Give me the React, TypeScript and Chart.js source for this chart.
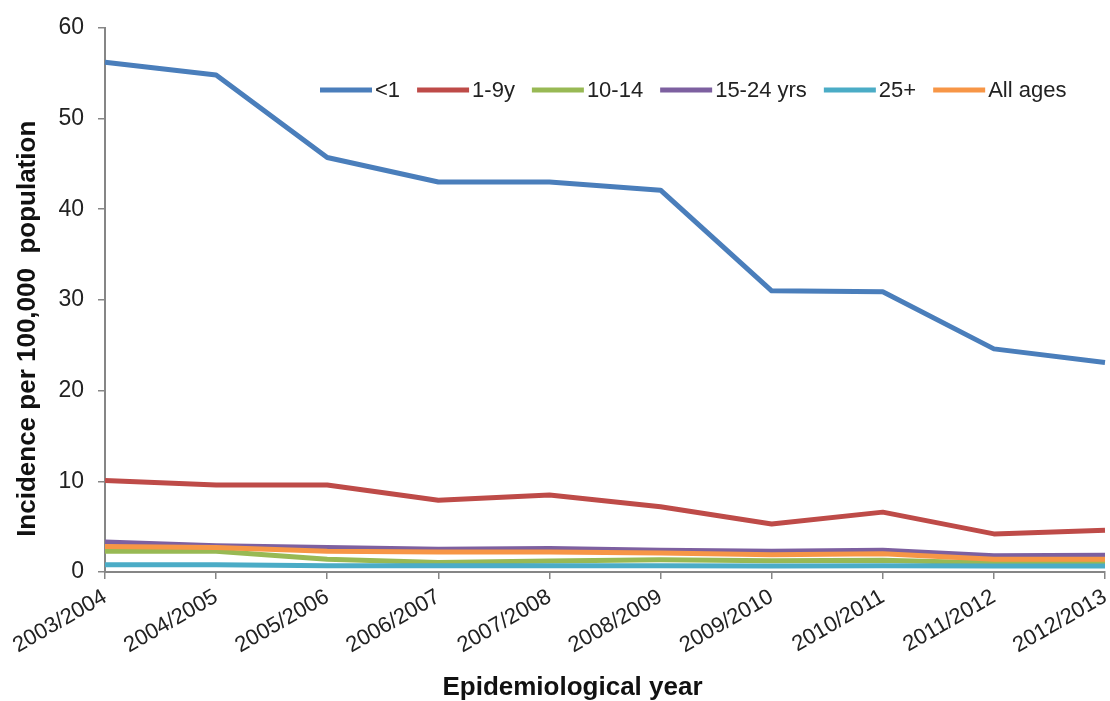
import React, { useEffect, useRef } from 'react';
import { Chart, registerables } from 'chart.js';

Chart.register(...registerables);

const FONT = "'Liberation Sans', Arial, sans-serif";

const years = [
  '2003/2004', '2004/2005', '2005/2006', '2006/2007', '2007/2008',
  '2008/2009', '2009/2010', '2010/2011', '2011/2012', '2012/2013',
];

const under1 = [56.2, 54.8, 45.7, 43.0, 43.0, 42.1, 31.0, 30.9, 24.6, 23.1];
const age1to9 = [10.1, 9.6, 9.6, 7.9, 8.5, 7.2, 5.3, 6.6, 4.2, 4.6];
const age10to14 = [2.3, 2.3, 1.4, 1.05, 1.2, 1.35, 1.25, 1.3, 1.0, 1.05];
const age15to24 = [3.3, 2.9, 2.7, 2.5, 2.6, 2.4, 2.3, 2.4, 1.8, 1.85];
const age25plus = [0.8, 0.8, 0.7, 0.7, 0.7, 0.7, 0.65, 0.7, 0.65, 0.65];
const allAges = [2.8, 2.7, 2.3, 2.2, 2.2, 2.1, 1.9, 2.0, 1.4, 1.4];

const seriesNames = ['<1', '1-9y', '10-14', '15-24 yrs', '25+', 'All ages'];
const seriesValues = [under1, age1to9, age10to14, age15to24, age25plus, allAges];
const seriesColors = ['#4A7EBB', '#BE4B48', '#98B954', '#7D60A0', '#4BACC6', '#F79646'];

const yTicks = { min: 0, max: 60, step: 10 };

const inlineLegend = {
  id: 'inlineLegend',
  afterDatasetsDraw(chart: any, _args: any, opts: any) {
    const ctx = chart.ctx;
    ctx.save();
    ctx.font = `${opts.fontSize}px ${FONT}`;
    ctx.textBaseline = 'middle';
    ctx.textAlign = 'left';
    let x = opts.x;
    const y = opts.y;
    chart.data.datasets.forEach((ds: any) => {
      ctx.strokeStyle = ds.borderColor;
      ctx.lineWidth = 5;
      ctx.lineCap = 'butt';
      ctx.beginPath();
      ctx.moveTo(x, y);
      ctx.lineTo(x + opts.swatch, y);
      ctx.stroke();
      ctx.fillStyle = '#222';
      ctx.fillText(ds.label, x + opts.swatch + 3, y + 1);
      x += opts.swatch + 3 + ctx.measureText(ds.label).width + opts.gap;
    });
    ctx.restore();
  },
};

export default function App() {
  const canvasRef = useRef<HTMLCanvasElement | null>(null);

  useEffect(() => {
    if (!canvasRef.current) return;
    const chart = new Chart(canvasRef.current, {
      type: 'line',
      data: {
        labels: years,
        datasets: seriesNames.map((name, i) => ({
          label: name,
          data: seriesValues[i],
          borderColor: seriesColors[i],
          backgroundColor: seriesColors[i],
          borderWidth: 5,
          pointRadius: 0,
          tension: 0,
          borderJoinStyle: 'round' as const,
          borderCapStyle: 'butt' as const,
          fill: false,
          order: seriesNames.length - 1 - i,
        })),
      },
      options: {
        animation: false,
        responsive: true,
        maintainAspectRatio: false,
        layout: { padding: { left: 0, right: 5, top: 27, bottom: 0 } },
        plugins: {
          legend: { display: false },
          tooltip: { enabled: false },
          inlineLegend: { x: 320, y: 90, swatch: 52, gap: 17, fontSize: 22 },
        } as any,
        scales: {
          x: {
            type: 'category',
            offset: false,
            afterFit: (scale: any) => {
              scale.height = 129;
              scale.paddingRight = 0;
              scale.paddingLeft = 0;
            },
            border: { display: true, color: '#868686', width: 2 },
            grid: {
              display: true,
              drawOnChartArea: false,
              drawTicks: true,
              tickLength: 7,
              color: '#868686',
              lineWidth: 1.5,
            },
            ticks: {
              autoSkip: false,
              maxRotation: 30,
              minRotation: 30,
              padding: 5,
              color: '#222',
              font: { family: FONT, size: 22 },
            },
            title: {
              display: true,
              text: 'Epidemiological year         ',
              color: '#111',
              font: { family: FONT, size: 26, weight: 'bold', lineHeight: 1.0 },
              padding: { top: 0, bottom: 0 },
            },
          },
          y: {
            min: yTicks.min,
            max: yTicks.max,
            afterFit: (scale: any) => {
              scale.width = 105;
            },
            border: { display: true, color: '#868686', width: 2 },
            grid: {
              display: true,
              drawOnChartArea: false,
              drawTicks: true,
              tickLength: 7,
              color: '#868686',
              lineWidth: 1.5,
            },
            ticks: {
              stepSize: yTicks.step,
              padding: 14,
              color: '#222',
              font: { family: FONT, size: 23 },
            },
            title: {
              display: true,
              text: 'Incidence per 100,000  population        ',
              color: '#111',
              font: { family: FONT, size: 26, weight: 'bold', lineHeight: 1.2 },
              padding: { top: 12, bottom: 0 },
            },
          },
        },
      },
      plugins: [inlineLegend],
    });
    return () => chart.destroy();
  }, []);

  return (
    <div style={{ position: 'absolute', left: 0, top: 0, width: 1110, height: 701, background: '#fff' }}>
      <canvas ref={canvasRef} />
    </div>
  );
}
